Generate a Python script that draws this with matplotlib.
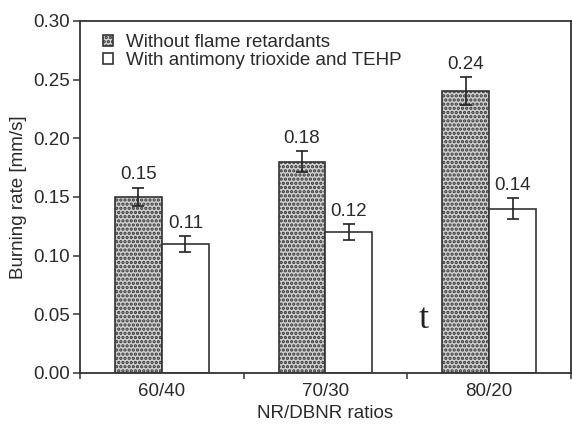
import matplotlib
matplotlib.use("Agg")
import matplotlib.pyplot as plt
import numpy as np

# ── Data ──────────────────────────────────────────────────────────────────────
ratios = ["60/40", "70/30", "80/20"]
without_fr = [0.15, 0.18, 0.24]
without_err = [0.008, 0.009, 0.012]
with_fr = [0.11, 0.12, 0.14]
with_err = [0.007, 0.007, 0.009]
series_labels = ["Without flame retardants", "With antimony trioxide and TEHP"]
yticks = [0.00, 0.05, 0.10, 0.15, 0.20, 0.25, 0.30]

# ── Styling ───────────────────────────────────────────────────────────────────
plt.rcParams.update({
    "font.family": ["Liberation Sans", "DejaVu Sans"],
    "font.size": 13.5,
    "text.color": "#2a2a2a",
    "axes.labelcolor": "#2a2a2a",
    "xtick.labelcolor": "#2a2a2a",
    "ytick.labelcolor": "#2a2a2a",
    "hatch.linewidth": 1.6,
    "hatch.color": "#151515",
})
EDGE = "#333333"

fig = plt.figure(figsize=(5.72, 4.25), dpi=100)
ax = fig.add_axes([0.140, 0.1224, 0.858, 0.8282])

x = np.arange(len(ratios))
w = 0.287

ax.bar(x - w / 2, without_fr, w, color="#d0d0d0", edgecolor=EDGE, lw=1.2,
       hatch="....", label=series_labels[0], zorder=2)
ax.bar(x + w / 2, with_fr, w, color="white", edgecolor=EDGE, lw=1.2,
       label=series_labels[1], zorder=2)

ax.errorbar(x - w / 2, without_fr, yerr=without_err, fmt="none", ecolor="#222",
            elinewidth=1.2, capsize=4, capthick=1.2, zorder=3)
ax.errorbar(x + w / 2, with_fr, yerr=with_err, fmt="none", ecolor="#222",
            elinewidth=1.2, capsize=4, capthick=1.2, zorder=3)

for xs, vals, errs in [(x - w / 2, without_fr, without_err), (x + w / 2, with_fr, with_err)]:
    for xi, v, e in zip(xs, vals, errs):
        ax.annotate(f"{v:.2f}", (xi, v + e), xytext=(0, 3), textcoords="offset points",
                    ha="center", va="bottom", fontsize=13.5)

# stray "t" in the original figure
ax.text(1.6, 0.046, "t", family=["Liberation Serif", "DejaVu Serif"], fontsize=26,
        ha="center", va="center", color="#222")

ax.set_xlim(-0.5, 2.5)
ax.set_ylim(0, 0.30)
ax.set_yticks(yticks)
ax.set_yticklabels([f"{t:.2f}" for t in yticks])
ax.set_xticks(np.arange(-0.5, 3.0, 1.0))
ax.set_xticklabels([])
ax.set_xticks(x, minor=True)
ax.set_xticklabels(ratios, minor=True)
ax.tick_params(axis="x", which="minor", length=0, pad=7)
ax.tick_params(axis="x", which="major", direction="out", length=4, width=1.1, color=EDGE)
ax.tick_params(axis="y", direction="out", length=5, width=1.1, color=EDGE, pad=2)
for s in ax.spines.values():
    s.set_color(EDGE)
    s.set_linewidth(1.3)

ax.set_xlabel("NR/DBNR ratios", labelpad=4)
ax.set_ylabel("Burning rate [mm/s]", labelpad=5)

ax.legend(loc="upper left", bbox_to_anchor=(0.02, 1.0), frameon=False,
          handlelength=0.55, handleheight=0.55, handletextpad=0.7,
          labelspacing=0.05, borderaxespad=0.3)

fig.savefig("out.png", dpi=100)
